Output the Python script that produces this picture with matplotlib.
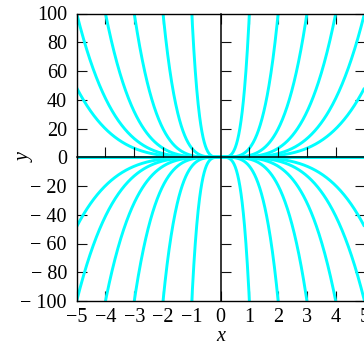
import numpy as np
import matplotlib
matplotlib.use('Agg')
import matplotlib.pyplot as plt

# family y = C x^4, drawn with both signs of C
coeffs = [100.0, 6.25, 1.2346, 0.3906, 0.16, 0.0772, 0.0]
signs = [1, -1]

xticks = [-5, -4, -3, -2, -1, 0, 1, 2, 3, 4, 5]
xtick_labels = ['\u22125', '\u22124', '\u22123', '\u22122', '\u22121',
                '0', '1', '2', '3', '4', '5']
yticks = [-100, -80, -60, -40, -20, 0, 20, 40, 60, 80, 100]
ytick_labels = ['\u2212 100', '\u2212 80', '\u2212 60', '\u2212 40', '\u2212 20',
                '0', '20', '40', '60', '80', '100']

plt.rcParams['font.family'] = ['Liberation Serif', 'DejaVu Serif']

fig = plt.figure(figsize=(3.64, 3.45), dpi=100)
pos = [76.7 / 364, 44 / 345, 287.8 / 364, 287.5 / 345]
ax = fig.add_axes(pos)

x = np.linspace(-5, 5, 1001)
for c in coeffs:
    for s in signs:
        ax.plot(x, s * c * x**4, color='#00ffff', lw=2.1, zorder=2,
                solid_capstyle='butt')

ax.set_xlim(-5, 5)
ax.set_ylim(-100, 100)
ax.set_xticks(xticks)
ax.set_xticklabels(xtick_labels)
ax.set_yticks(yticks)
ax.set_yticklabels(ytick_labels)
ax.tick_params(direction='in', length=7.2, width=0.8, color='#111111',
               top=True, right=True, labelsize=14.5)
ax.tick_params(axis='y', pad=7)
ax.tick_params(axis='x', pad=5)
for sp in ax.spines.values():
    sp.set_linewidth(1.0)
    sp.set_zorder(4)

ax.set_xlabel('x', style='italic', fontsize=14.5, va='baseline')
ax.xaxis.set_label_coords(0.5, -0.138)
ax.set_ylabel('y', style='italic', fontsize=14.5, va='center')
ax.yaxis.set_label_coords(-0.18, 0.5)

# axes through the origin, with their own inward ticks
ax0 = fig.add_axes(pos, facecolor='none')
ax0.set_xlim(-5, 5)
ax0.set_ylim(-100, 100)
ax0.spines['left'].set_position(('data', 0))
ax0.spines['bottom'].set_position(('data', 0))
ax0.spines['top'].set_visible(False)
ax0.spines['right'].set_visible(False)
for sp in ('left', 'bottom'):
    ax0.spines[sp].set_linewidth(1.1)
ax0.set_xticks([-4, -3, -2, -1, 1, 2, 3, 4])
ax0.set_yticks([-80, -60, -40, -20, 20, 40, 60, 80])
ax0.tick_params(direction='in', length=7.2, width=0.8, color='#111111',
                labelbottom=False, labelleft=False)

fig.savefig('out.png', dpi=100)
